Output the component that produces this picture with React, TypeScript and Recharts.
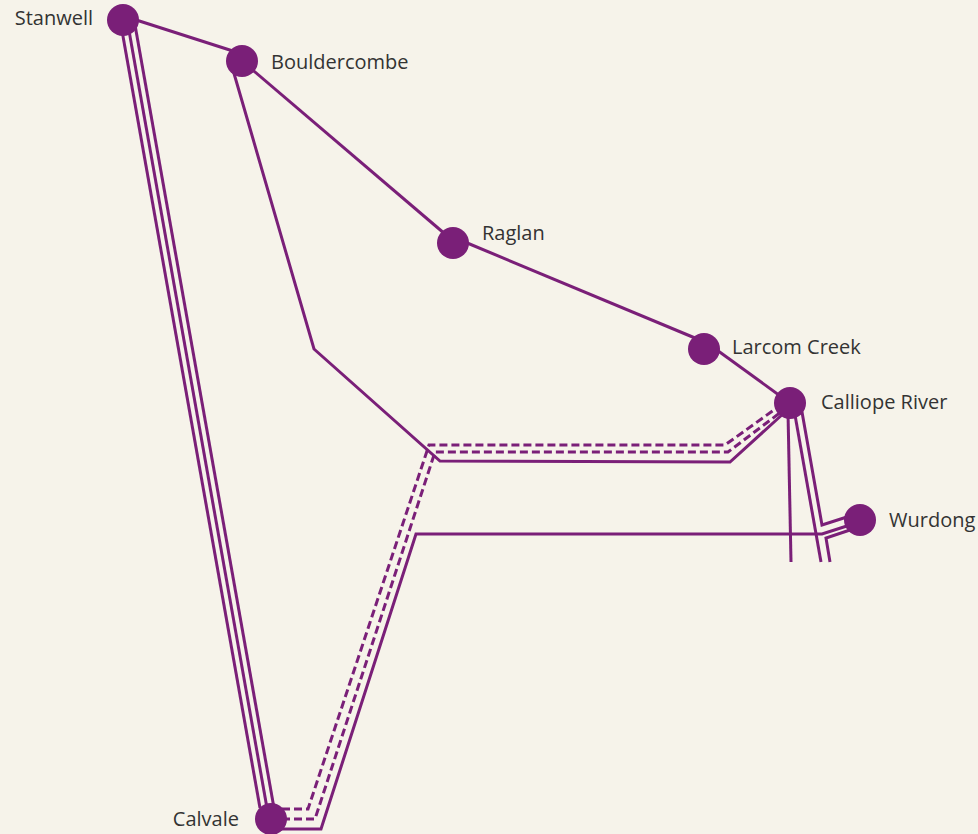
import { LineChart, Line, XAxis, YAxis, LabelList } from "recharts";

const PURPLE = "#7a1f78";
const BG = "#f6f3ea";

// map positions (x across, y down)
const stations = [
  { name: "Stanwell", x: 123, y: 20 },
  { name: "Bouldercombe", x: 242, y: 61 },
  { name: "Raglan", x: 453, y: 243 },
  { name: "Larcom Creek", x: 704, y: 349 },
  { name: "Calliope River", x: 790, y: 403 },
  { name: "Wurdong", x: 860, y: 520 },
  { name: "Calvale", x: 271, y: 819 },
];

const stanwellBouldercombe = [{ x: 130, y: 18 }, { x: 236, y: 52 }];
const bouldercombeRaglan = [{ x: 248, y: 66 }, { x: 445, y: 234 }];
const raglanLarcom = [{ x: 460, y: 240 }, { x: 695, y: 338 }];
const larcomCalliope = [{ x: 710, y: 345 }, { x: 783, y: 398 }];

const stanwellCalvale1 = [{ x: 121, y: 25 }, { x: 260, y: 808 }];
const stanwellCalvale2 = [{ x: 128, y: 25 }, { x: 267, y: 808 }];
const stanwellCalvale3 = [{ x: 135, y: 25 }, { x: 274, y: 808 }];

const bouldercombeCalliope = [
  { x: 233, y: 70 },
  { x: 314, y: 349 },
  { x: 440, y: 461 },
  { x: 730, y: 462 },
  { x: 784, y: 413 },
];

const calvaleCalliopeDash1 = [
  { x: 282, y: 809 },
  { x: 308, y: 809 },
  { x: 429, y: 445 },
  { x: 725, y: 445 },
  { x: 778, y: 407 },
];
const calvaleCalliopeDash2 = [
  { x: 282, y: 819 },
  { x: 315, y: 819 },
  { x: 435, y: 452 },
  { x: 728, y: 452 },
  { x: 781, y: 412 },
];

const calvaleWurdong = [
  { x: 275, y: 829 },
  { x: 321, y: 829 },
  { x: 416, y: 534 },
  { x: 822, y: 534 },
  { x: 850, y: 525 },
];

const calliopeSouth1 = [{ x: 788, y: 412 }, { x: 791, y: 562 }];
const calliopeSouth2 = [{ x: 795, y: 415 }, { x: 821, y: 562 }];
const calliopeWurdong = [{ x: 802, y: 412 }, { x: 822, y: 525 }, { x: 850, y: 516 }];
const wurdongSouth = [{ x: 850, y: 530 }, { x: 826, y: 538 }, { x: 830, y: 562 }];

const solidLines = [
  stanwellBouldercombe,
  bouldercombeRaglan,
  raglanLarcom,
  larcomCalliope,
  stanwellCalvale1,
  stanwellCalvale2,
  stanwellCalvale3,
  bouldercombeCalliope,
  calvaleWurdong,
  calliopeSouth1,
  calliopeSouth2,
  calliopeWurdong,
  wurdongSouth,
];
const dashedLines = [calvaleCalliopeDash1, calvaleCalliopeDash2];

const labelOffsets: Record<string, { dx: number; dy: number; anchor: string }> = {
  Stanwell: { dx: -30, dy: -3, anchor: "end" },
  Bouldercombe: { dx: 29, dy: 0, anchor: "start" },
  Raglan: { dx: 29, dy: -11, anchor: "start" },
  "Larcom Creek": { dx: 28, dy: -3, anchor: "start" },
  "Calliope River": { dx: 31, dy: -2, anchor: "start" },
  Wurdong: { dx: 29, dy: -1, anchor: "start" },
  Calvale: { dx: -32, dy: -1, anchor: "end" },
};

const renderLabel = (props: any) => {
  const o = labelOffsets[props.value];
  return (
    <text
      x={props.x + o.dx}
      y={props.y + o.dy}
      textAnchor={o.anchor}
      dominantBaseline="central"
      fontFamily="'Open Sans', sans-serif"
      fontSize={20}
      fill="#333333"
    >
      {props.value}
    </text>
  );
};

export default function App() {
  return (
    <div style={{ position: "absolute", left: 0, top: 0, width: 978, height: 834, background: BG, overflow: "hidden" }}>
      <LineChart width={978} height={834} margin={{ top: 0, right: 0, bottom: 0, left: 0 }}>
        <XAxis type="number" dataKey="x" domain={[0, 978]} hide />
        <YAxis type="number" dataKey="y" domain={[0, 834]} reversed hide />
        {solidLines.map((pts, i) => (
          <Line key={i} data={pts} dataKey="y" type="linear" stroke={PURPLE} strokeWidth={3} dot={false} activeDot={false} isAnimationActive={false} />
        ))}
        {dashedLines.map((pts, i) => (
          <Line key={i} data={pts} dataKey="y" type="linear" stroke={PURPLE} strokeWidth={3} strokeDasharray="8 4" dot={false} activeDot={false} isAnimationActive={false} />
        ))}
        <Line
          data={stations}
          dataKey="y"
          stroke="none"
          dot={{ r: 16, fill: PURPLE, stroke: "none" }}
          activeDot={false}
          isAnimationActive={false}
        >
          <LabelList dataKey="name" content={renderLabel} />
        </Line>
      </LineChart>
    </div>
  );
}
